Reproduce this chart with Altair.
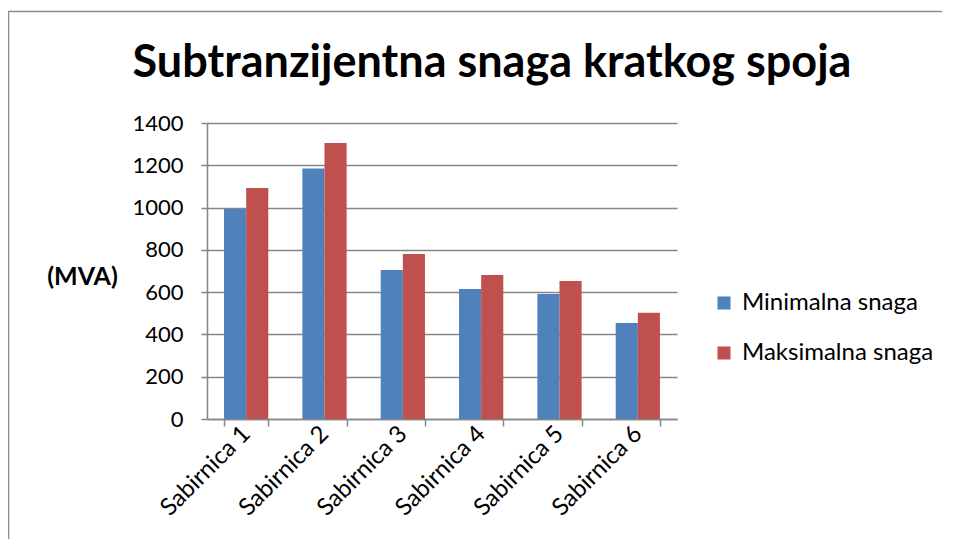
import altair as alt
import pandas as pd

categories = ["Sabirnica 1", "Sabirnica 2", "Sabirnica 3", "Sabirnica 4", "Sabirnica 5", "Sabirnica 6"]
series_names = ["Minimalna snaga", "Maksimalna snaga"]
min_values = [993, 1185, 705, 615, 591, 454]
max_values = [1093, 1305, 780, 681, 653, 503]
y_ticks = [0, 200, 400, 600, 800, 1000, 1200, 1400]
colors = ["#4F81BD", "#C0504D"]
title_text = "Subtranzijentna snaga kratkog spoja"

rows = []
for c, v in zip(categories, min_values):
    rows.append({"cat": c, "series": series_names[0], "value": v})
for c, v in zip(categories, max_values):
    rows.append({"cat": c, "series": series_names[1], "value": v})
df = pd.DataFrame(rows)

FONT = "Lato"

bars = alt.Chart(df).mark_bar().encode(
    x=alt.X("cat:N", sort=categories, title=None,
            scale=alt.Scale(paddingInner=0.435, paddingOuter=0.2175),
            axis=alt.Axis(labelAngle=-45, labelAlign="right", labelBaseline="middle",
                          labelFontSize=24, labelFont=FONT, labelColor="#000000",
                          labelPadding=4, tickBand="extent", tickSize=7,
                          tickColor="#868686", domainColor="#868686",
                          tickWidth=1.5, domainWidth=1.5, grid=False)),
    xOffset=alt.XOffset("series:N", sort=series_names),
    y=alt.Y("value:Q", scale=alt.Scale(domain=[0, 1400], nice=False),
            axis=alt.Axis(values=y_ticks, format="d", title="(MVA)", titleAngle=0,
                          titleFont=FONT, titleFontSize=25, titleFontWeight="bold",
                          titleColor="#000000", titleAlign="center", titleBaseline="middle",
                          titleX=-125, titleY=153,
                          labelFontSize=22, labelFont=FONT, labelColor="#000000",
                          labelPadding=18, tickSize=6, tickColor="#868686",
                          domainColor="#868686", tickWidth=1.5, domainWidth=1.5,
                          gridColor="#868686", gridWidth=1.5)),
    color=alt.Color("series:N", sort=series_names,
                    scale=alt.Scale(domain=series_names, range=colors),
                    legend=alt.Legend(title=None, orient="none", legendX=505, legendY=168,
                                      symbolType="square", symbolSize=170,
                                      symbolStrokeWidth=0,
                                      labelFont=FONT, labelFontSize=24, labelLimit=400,
                                      labelColor="#000000", rowPadding=26,
                                      labelOffset=6)),
)

single = pd.DataFrame({"t": [title_text]})

border = alt.Chart(single).mark_rect(
    fill=None, stroke="#8c8c8c", strokeWidth=1.5
).encode(
    x=alt.value(-198.5), x2=alt.value(900),
    y=alt.value(-111.5), y2=alt.value(600),
)

title = alt.Chart(single).mark_text(
    font=FONT, fontSize=45, fontWeight="bold", color="#000000",
    align="center", baseline="alphabetic"
).encode(
    text="t:N", x=alt.value(285), y=alt.value(-46),
)

chart = alt.layer(border, title, bars).properties(
    width=470, height=296,
    autosize=alt.AutoSizeParams(type="none"),
    padding={"left": 199, "top": 115, "right": 265, "bottom": 120},
).configure_view(stroke=None)

chart.save("out.html", embed_options={"renderer": "svg", "actions": False})
